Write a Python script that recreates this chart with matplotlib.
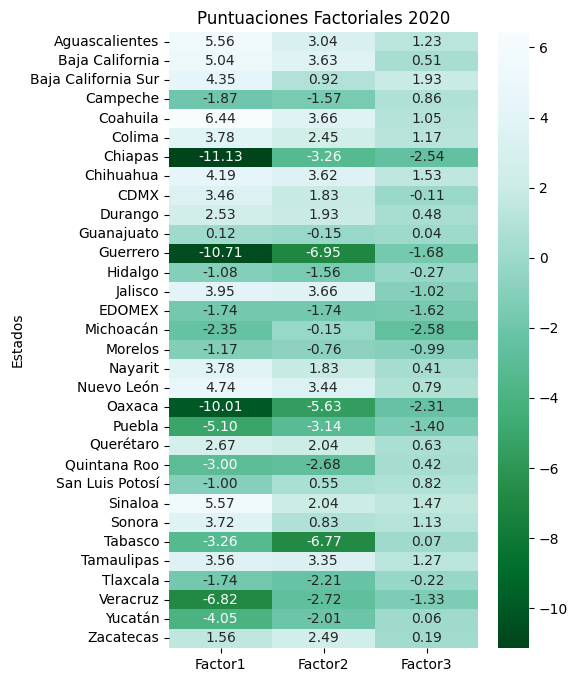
import numpy as np
import pandas as pd
import matplotlib
matplotlib.use('Agg')
import matplotlib.pyplot as plt
import seaborn as sns

estados = ['Aguascalientes', 'Baja California', 'Baja California Sur', 'Campeche',
           'Coahuila', 'Colima', 'Chiapas', 'Chihuahua', 'CDMX', 'Durango',
           'Guanajuato', 'Guerrero', 'Hidalgo', 'Jalisco', 'EDOMEX', 'Michoacán',
           'Morelos', 'Nayarit', 'Nuevo León', 'Oaxaca', 'Puebla', 'Querétaro',
           'Quintana Roo', 'San Luis Potosí', 'Sinaloa', 'Sonora', 'Tabasco',
           'Tamaulipas', 'Tlaxcala', 'Veracruz', 'Yucatán', 'Zacatecas']

factor1 = [5.56, 5.04, 4.35, -1.87, 6.44, 3.78, -11.13, 4.19, 3.46, 2.53,
           0.12, -10.71, -1.08, 3.95, -1.74, -2.35, -1.17, 3.78, 4.74, -10.01,
           -5.10, 2.67, -3.00, -1.00, 5.57, 3.72, -3.26, 3.56, -1.74, -6.82,
           -4.05, 1.56]
factor2 = [3.04, 3.63, 0.92, -1.57, 3.66, 2.45, -3.26, 3.62, 1.83, 1.93,
           -0.15, -6.95, -1.56, 3.66, -1.74, -0.15, -0.76, 1.83, 3.44, -5.63,
           -3.14, 2.04, -2.68, 0.55, 2.04, 0.83, -6.77, 3.35, -2.21, -2.72,
           -2.01, 2.49]
factor3 = [1.23, 0.51, 1.93, 0.86, 1.05, 1.17, -2.54, 1.53, -0.11, 0.48,
           0.04, -1.68, -0.27, -1.02, -1.62, -2.58, -0.99, 0.41, 0.79, -2.31,
           -1.40, 0.63, 0.42, 0.82, 1.47, 1.13, 0.07, 1.27, -0.22, -1.33,
           0.06, 0.19]

df = pd.DataFrame({'Factor1': factor1, 'Factor2': factor2, 'Factor3': factor3},
                  index=pd.Index(estados, name='Estados'))

fig = plt.figure(figsize=(5.77, 6.82), dpi=100)
ax = fig.add_axes([0.293, 0.050, 0.536, 0.903])
cax = fig.add_axes([0.863, 0.050, 0.054, 0.903])

sns.heatmap(df, annot=True, fmt='.2f', cmap='BuGn_r', ax=ax, cbar_ax=cax)
ax.set_title('Puntuaciones Factoriales 2020')

plt.savefig('out.png', dpi=100)
